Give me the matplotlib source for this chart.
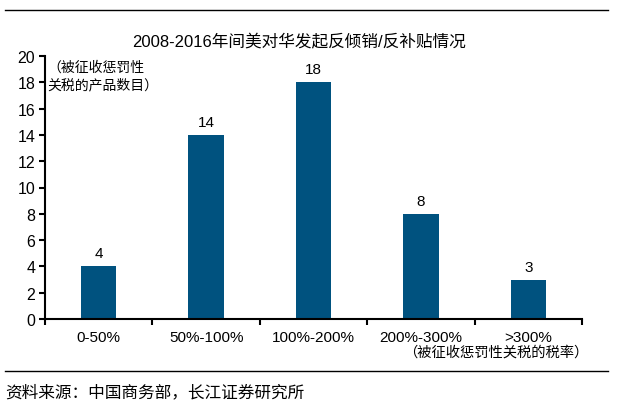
import matplotlib
matplotlib.use("Agg")
import numpy as np
import matplotlib.pyplot as plt

plt.rcParams['font.family'] = ['Liberation Sans', 'Noto Sans CJK SC', 'DejaVu Sans']

categories = ["0-50%", "50%-100%", "100%-200%", "200%-300%", ">300%"]
counts = [4, 14, 18, 8, 3]
yticks = list(range(0, 21, 2))

bar_color = "#00527F"

fig = plt.figure(figsize=(6.17, 4.14), dpi=100)
ax = fig.add_axes([45/617, 1-320/414, (582-45)/617, (320-57)/414])

x = np.arange(len(categories))
ax.bar(x, counts, width=0.33, color=bar_color)
for xi, v in zip(x, counts):
    ax.text(xi, v + 0.45, str(v), ha="center", va="bottom", fontsize=11)

ax.set_xlim(-0.5, len(categories) - 0.5)
ax.set_ylim(0, 20)
ax.set_yticks(yticks)
ax.set_xticks(x)
ax.set_xticklabels(categories, fontsize=11)
ax.set_xticks(np.arange(-0.5, len(categories), 1), minor=True)
ax.tick_params(axis="x", which="major", length=0, pad=8)
ax.tick_params(axis="x", which="minor", length=4, width=1.5, direction="out")
ax.tick_params(axis="y", length=4, width=1.5, direction="out", labelsize=11.5, pad=3)
for s in ["top", "right"]:
    ax.spines[s].set_visible(False)
ax.spines["left"].set_linewidth(1.5)
ax.spines["bottom"].set_linewidth(1.5)

ax.text(0.005, 0.985, "（被征收惩罚性\n关税的产品数目）", transform=ax.transAxes,
        fontsize=10, va="top", ha="left", linespacing=1.3)

fig.text(299/617, 1-41/414, "2008-2016年间美对华发起反倾销/反补贴情况",
         ha="center", va="center", fontsize=12)
fig.text(588/617, 1-353/414, "（被征收惩罚性关税的税率）", ha="right", va="center",
         fontsize=10.3)
fig.text(5/617, 1-392/414, "资料来源：中国商务部，长江证券研究所", ha="left", va="center",
         fontsize=12)

fig.add_artist(plt.Line2D([5/617, 608/617], [1-11/414, 1-11/414], color="black", lw=1))
fig.add_artist(plt.Line2D([5/617, 608/617], [1-372/414, 1-372/414], color="black", lw=1))

fig.savefig("out.png", dpi=100)
